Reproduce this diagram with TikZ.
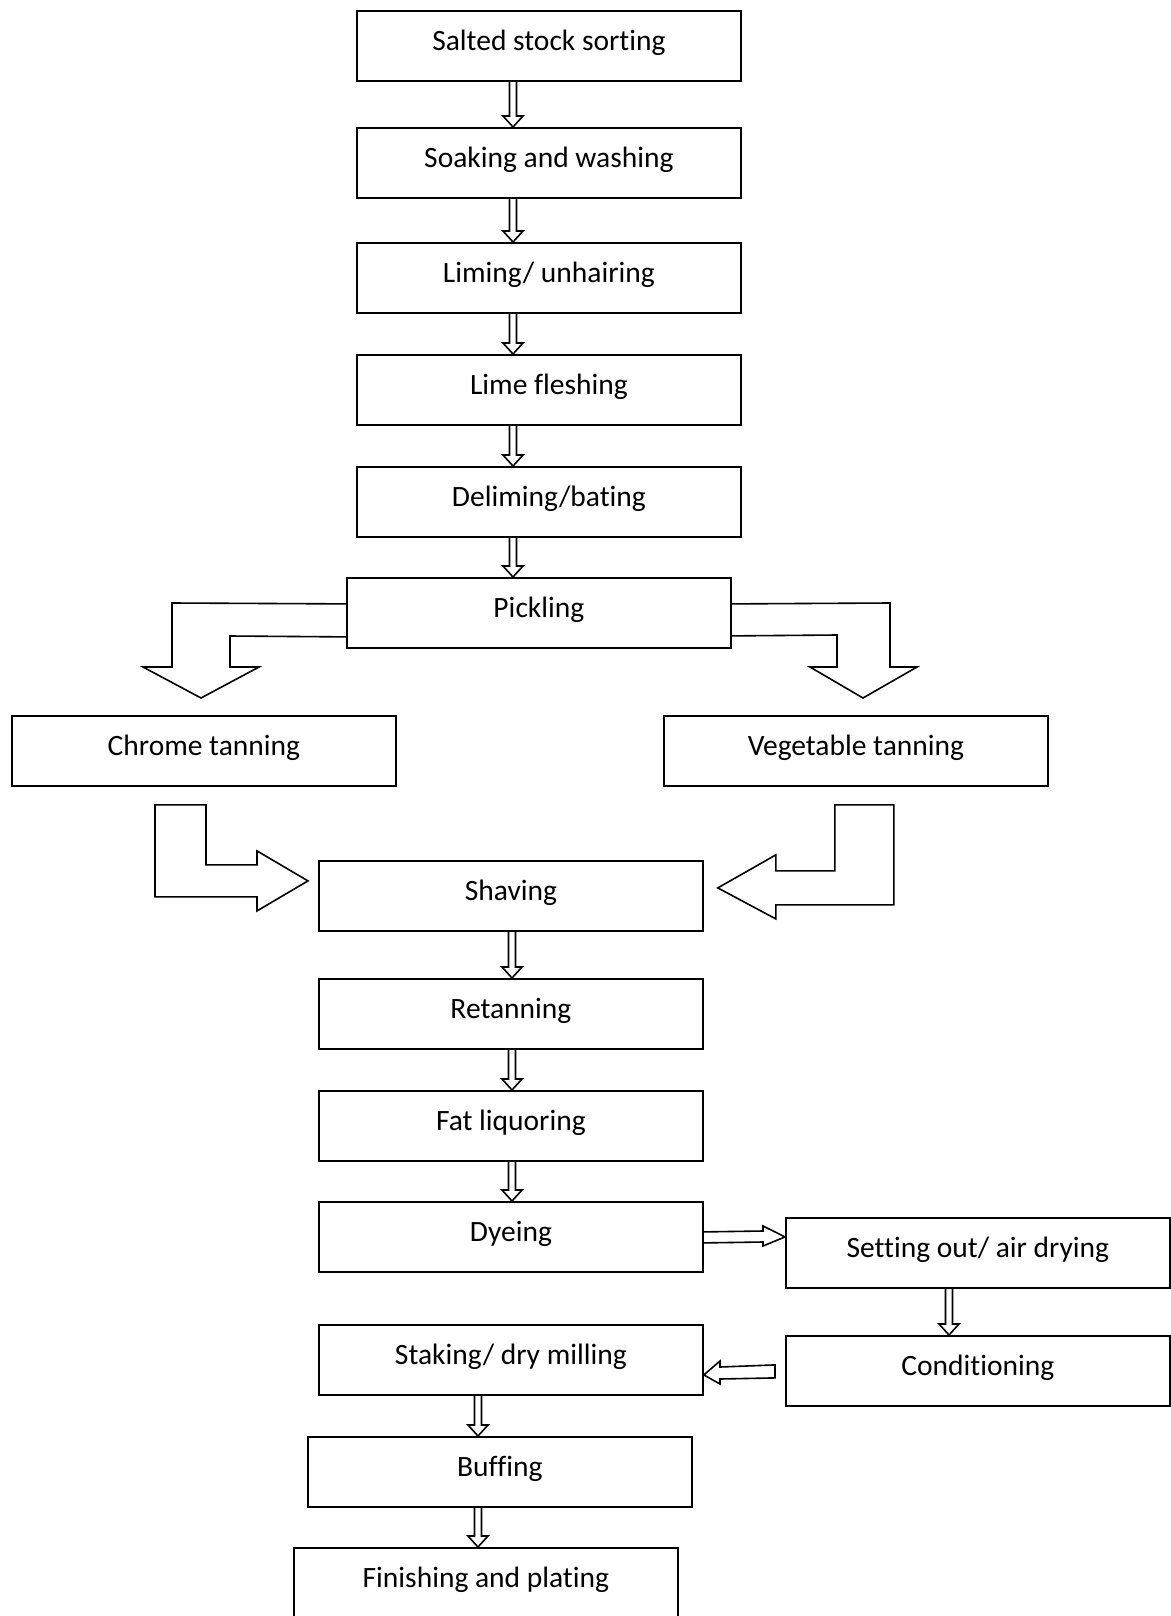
\documentclass[tikz,border=0pt]{standalone}
\usepackage{fontspec}
\setmainfont[RawFeature={-liga;-clig;-calt;-dlig}]{Carlito}
\usetikzlibrary{calc}

\tikzset{
  stepbox/.style={draw, line width=1.8pt, minimum width=384pt, inner xsep=0pt, inner ysep=0pt,
    text height=40pt, text depth=30pt, anchor=north west, font=\fontsize{29.5}{35}\selectfont},
  hollow/.style={draw, line width=1.6pt, line join=miter}
}

% small hollow down arrow: from node, to node, x of the arrow
\newcommand{\vdarr}[3]{%
  \path (#3,0) coordinate (ax);
  \coordinate (atop) at (#1.south -| ax);
  \coordinate (atip) at (#2.north -| ax);
  \draw[hollow] ($(atop)+(-3.5,0)$) -- ($(atip)+(-3.5,-11)$) -- ($(atip)+(-10,-11)$) -- (atip)
    -- ($(atip)+(10,-11)$) -- ($(atip)+(3.5,-11)$) -- ($(atop)+(3.5,0)$);
}

\begin{document}
\begin{tikzpicture}[x=1pt, y=-1pt]
    \useasboundingbox (0,0) rectangle (1170,1616);

    % Beamhouse
    \node[stepbox] (salt) at (356,10) {Salted stock sorting};
    \node[stepbox] (soak) at (356,127) {Soaking and washing};
    \node[stepbox] (lime) at (356,242) {Liming/ unhairing};
    \node[stepbox] (flesh) at (356,354) {Lime fleshing};
    \node[stepbox] (delime) at (356,466) {Deliming/bating};
    \node[stepbox] (pickle) at (346,577) {Pickling};

    % Tanning
    \node[stepbox] (chrome) at (11,715) {Chrome tanning};
    \node[stepbox] (veg) at (663,715) {Vegetable tanning};

    % Post-tanning
    \node[stepbox] (shave) at (318,860) {Shaving};
    \node[stepbox] (retan) at (318,978) {Retanning};
    \node[stepbox] (fat) at (318,1090) {Fat liquoring};
    \node[stepbox] (dye) at (318,1201) {Dyeing};
    \node[stepbox] (setout) at (785,1217) {Setting out/ air drying};
    \node[stepbox] (cond) at (785,1335) {Conditioning};
    \node[stepbox] (stake) at (318,1324) {Staking/ dry milling};
    \node[stepbox] (buff) at (307,1436) {Buffing};
    \node[stepbox] (finish) at (293,1547) {Finishing and plating};

    % Down arrows
    \vdarr{salt}{soak}{513}
    \vdarr{soak}{lime}{513}
    \vdarr{lime}{flesh}{513}
    \vdarr{flesh}{delime}{513}
    \vdarr{delime}{pickle}{513}
    \vdarr{shave}{retan}{512}
    \vdarr{retan}{fat}{512}
    \vdarr{fat}{dye}{512}
    \vdarr{setout}{cond}{949}
    \vdarr{stake}{buff}{478}
    \vdarr{buff}{finish}{478}

    % Pickling splits
    \draw[hollow] ($(pickle.west)+(0,-9)$) -- (172,603) -- (172,667) -- (143,667) -- (201,698)
        -- (259,667) -- (230,667) -- (230,636) -- ($(pickle.west)+(0,24)$);
    \draw[hollow] ($(pickle.east)+(0,-9)$) -- (890,603) -- (890,667) -- (917,667) -- (863,698)
        -- (810,667) -- (837,667) -- (837,635) -- ($(pickle.east)+(0,23)$);

    % Into shaving
    \draw[hollow] ($(shave.west)+(-10,-15)$) -- ++(-51,-30) -- ++(0,14) -- ++(-51,0) -- ++(0,-60)
        -- ++(-51,0) -- ++(0,92) -- ++(102,0) -- ++(0,14) -- cycle;
    \draw[hollow] ($(shave.east)+(14,-8)$) -- ++(58,-33) -- ++(0,16) -- ++(59,0) -- ++(0,-66)
        -- ++(59,0) -- ++(0,100) -- ++(-118,0) -- ++(0,14) -- cycle;

    % Dyeing to setting out
    \coordinate (dtip) at ($(setout.west)+(0,-16)$);
    \draw[hollow] ($(dye.east)+(0,-5)$) -- (763,1231) -- (763,1226) -- (dtip) -- (763,1246)
        -- (763,1242) -- ($(dye.east)+(0,6)$);

    % Conditioning back to staking
    \coordinate (cfree) at ($(cond.west)+(-10,0)$);
    \draw[hollow] ($(stake.east)+(0,15)$) -- (720,1361) -- (720,1367) -- ($(cfree)+(0,-6)$)
        -- ($(cfree)+(0,7)$) -- (720,1379) -- (720,1384) -- cycle;
\end{tikzpicture}
\end{document}
